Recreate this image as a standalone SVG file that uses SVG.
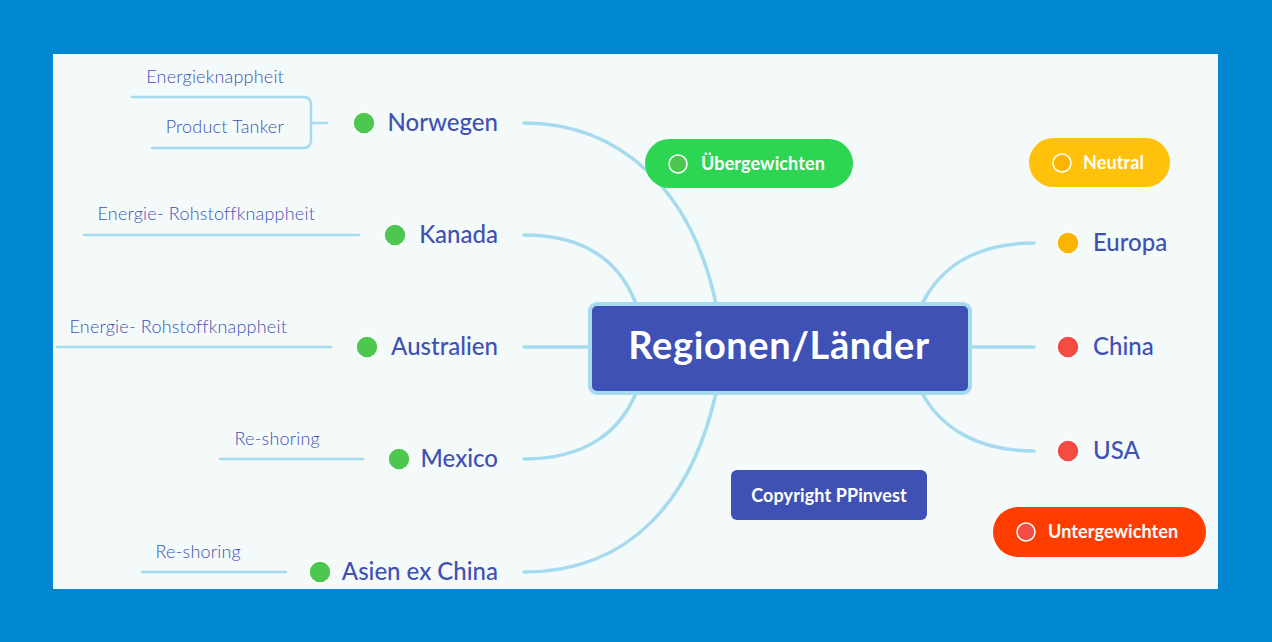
<svg xmlns="http://www.w3.org/2000/svg" width="1272" height="642" viewBox="0 0 1272 642">
<style>
.conn{fill:none;stroke:#A6DAEE;stroke-width:3.5;stroke-linecap:round}
.sub{fill:none;stroke:#A6DAEE;stroke-width:2.5;stroke-linecap:round}
.node{font-family:Lato,"Open Sans",sans-serif;font-size:24px;fill:#3F51B5;font-weight:500}
.subt{font-family:Lato,"Open Sans",sans-serif;font-size:18px;fill:#3F51B5;font-weight:300;letter-spacing:0.2px}
.pill{font-family:Lato,"Open Sans",sans-serif;font-size:18px;fill:#fff;font-weight:bold;letter-spacing:0.1px}
.dotg{fill:#4CC74F;stroke:#fff;stroke-width:1.5}
.doto{fill:#FDB400;stroke:#fff;stroke-width:1.5}
.dotr{fill:#F44B42;stroke:#fff;stroke-width:1.5}
</style>
<rect x="0" y="0" width="1272" height="642" fill="#0288D1"/>
<rect x="53" y="54" width="1165" height="535" fill="#F4FAFA"/>
<g id="connectors">
<path class="conn" d="M524,123 C620,123 692,190 716,304"/>
<path class="conn" d="M524,235 C585,235 620,262 636,304"/>
<path class="conn" d="M524,347 L590,347"/>
<path class="conn" d="M524,459 C585,459 620,432 636,393"/>
<path class="conn" d="M524,572 C630,572 692,500 716,393"/>
<path class="conn" d="M1034,243 C975,243 940,268 922,304"/>
<path class="conn" d="M970,347 L1034,347"/>
<path class="conn" d="M1034,451 C975,451 940,426 922,393"/>
<path class="sub" d="M327,123 L311,123"/>
<path class="sub" d="M132,97 L303,97 Q311,97 311,105 L311,140 Q311,148 303,148 L152,148"/>
<path class="sub" d="M84,235 L359,235"/>
<path class="sub" d="M57,347 L331,347"/>
<path class="sub" d="M220,459 L363,459"/>
<path class="sub" d="M142,572 L286,572"/>
</g>
<g id="center">
<rect x="590" y="304" width="380" height="89" rx="7" fill="#3F51B5" stroke="#A6DAEE" stroke-width="4"/>
<text x="779" y="359" text-anchor="middle" font-family="Lato,'Open Sans',sans-serif" font-size="38" font-weight="bold" letter-spacing="0.6" fill="#fff">Regionen/Länder</text>
</g>
<g id="norwegen"><circle class="dotg" cx="364" cy="123" r="11"/><text class="node" x="498" y="131" text-anchor="end">Norwegen</text></g>
<g id="kanada"><circle class="dotg" cx="395" cy="235" r="11"/><text class="node" x="498" y="243" text-anchor="end">Kanada</text></g>
<g id="australien"><circle class="dotg" cx="367" cy="347" r="11"/><text class="node" x="498" y="355" text-anchor="end">Australien</text></g>
<g id="mexico"><circle class="dotg" cx="399" cy="459" r="11"/><text class="node" x="498" y="467" text-anchor="end">Mexico</text></g>
<g id="asien"><circle class="dotg" cx="320" cy="572" r="11"/><text class="node" x="498" y="580" text-anchor="end">Asien ex China</text></g>
<g id="europa"><circle class="doto" cx="1068" cy="243" r="11"/><text class="node" x="1093" y="251">Europa</text></g>
<g id="china"><circle class="dotr" cx="1068" cy="347" r="11"/><text class="node" x="1093" y="355">China</text></g>
<g id="usa"><circle class="dotr" cx="1068" cy="451" r="11"/><text class="node" x="1093" y="459">USA</text></g>
<g id="sub-energieknappheit"><text class="subt" x="284" y="83" text-anchor="end">Energieknappheit</text></g>
<g id="sub-producttanker"><text class="subt" x="284" y="133" text-anchor="end">Product Tanker</text></g>
<g id="sub-kanada"><text class="subt" x="315" y="220" text-anchor="end">Energie- Rohstoffknappheit</text></g>
<g id="sub-australien"><text class="subt" x="287" y="333" text-anchor="end">Energie- Rohstoffknappheit</text></g>
<g id="sub-mexico"><text class="subt" x="320" y="445" text-anchor="end">Re-shoring</text></g>
<g id="sub-asien"><text class="subt" x="241" y="558" text-anchor="end">Re-shoring</text></g>
<g id="legend-uebergewichten"><rect x="645" y="139" width="208" height="49" rx="24.5" fill="#2CD653"/><circle class="dotg" cx="678" cy="164" r="9"/><text class="pill" x="701" y="170">Übergewichten</text></g>
<g id="legend-neutral"><rect x="1029" y="138" width="141" height="49" rx="24.5" fill="#FFC10A"/><circle class="doto" cx="1062" cy="163" r="9"/><text class="pill" x="1083" y="169">Neutral</text></g>
<g id="legend-untergewichten"><rect x="993" y="507" width="213" height="50" rx="25" fill="#FF3D00"/><circle class="dotr" cx="1026" cy="532" r="9"/><text class="pill" x="1048" y="538">Untergewichten</text></g>
<g id="copyright"><rect x="731" y="470" width="196" height="50" rx="6" fill="#3F51B5"/><text class="pill" x="829" y="502" text-anchor="middle">Copyright PPinvest</text></g>
</svg>
